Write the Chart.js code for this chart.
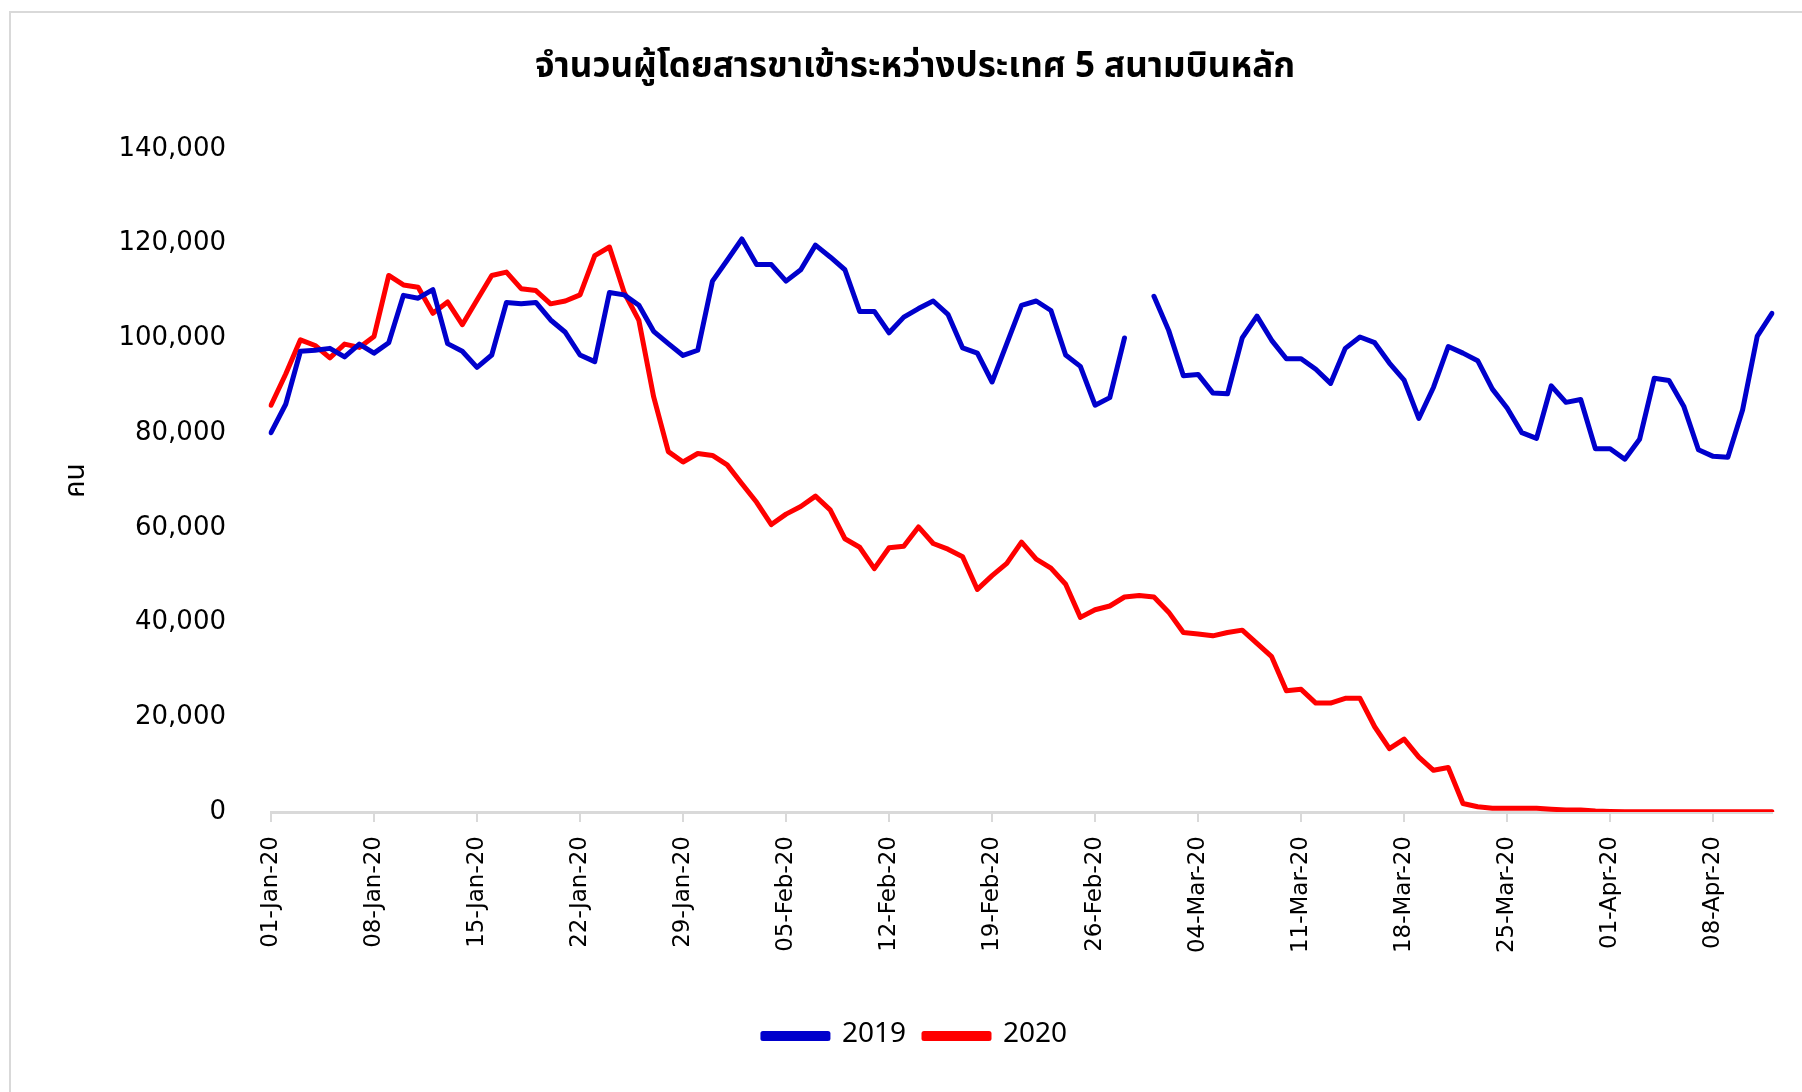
<!DOCTYPE html>
<html>
<head>
<meta charset="utf-8">
<script src="https://cdn.jsdelivr.net/npm/chart.js@4.4.1/dist/chart.umd.min.js"></script>
<style>
  html, body { margin: 0; padding: 0; background: #fff; }
  body { width: 1802px; height: 1092px; position: relative; overflow: hidden; }
  #frame { position: absolute; left: 9px; top: 11px; width: 1900px; height: 1200px;
           border-top: 2px solid #d9d9d9; border-left: 2px solid #d9d9d9; }
  #wrap { position: absolute; left: 0; top: 0; width: 1802px; height: 1092px; }
</style>
</head>
<body>
<div id="frame"></div>
<div id="wrap"><canvas id="chart"></canvas></div>
<script>
// ช่วงวันที่ 01-Jan ถึง 12-Apr (แกน x แบบรายวัน)
const startDay = { month: 0, day: 1 };
const dayCount = 103;
const monthNames = ['Jan', 'Feb', 'Mar', 'Apr'];
const monthLengths = [31, 29, 31, 30];
const tickEvery = 7;

// จำนวนผู้โดยสาร (คน)
const pax2019 = [
  80100, 86100, 97300, 97500, 97900, 96100, 98800, 96900, 99100, 109100,
  108500, 110300, 98900, 97300, 93900, 96500, 107600, 107300, 107600, 103900,
  101300, 96500, 95100, 109700, 109200, 107000, 101500, 98900, 96400, 97500,
  112100, 116500, 121000, 115600, 115600, 112100, 114500, 119700, 117200, 114500,
  105700, 105700, 101200, 104500, 106300, 107900, 105100, 98000, 96900, 90800,
  98900, 107000, 107900, 105900, 96500, 94100, 85900, 87500, 100100, null,
  108900, 101700, 92100, 92400, 88500, 88300, 100100, 104700, 99600, 95700,
  95700, 93500, 90500, 97900, 100300, 99100, 94800, 91200, 83100, 89700,
  98300, 96900, 95300, 89300, 85300, 80100, 78900, 90000, 86500, 87100,
  76700, 76700, 74500, 78700, 91600, 91100, 85700, 76500, 75100, 74900,
  84900, 100500, 105300
];
const pax2020 = [
  85900, 92500, 99700, 98500, 95900, 98800, 98100, 100400, 113300, 111300,
  110800, 105300, 107700, 102900, 108100, 113300, 114000, 110500, 110100, 107300,
  107900, 109200, 117500, 119300, 109700, 103800, 87700, 76100, 73900, 75700,
  75300, 73300, 69300, 65400, 60700, 62900, 64500, 66700, 63800, 57700,
  55900, 51400, 55800, 56100, 60200, 56700, 55500, 53900, 47000, 49900,
  52500, 57000, 53400, 51500, 48100, 41100, 42700, 43500, 45400, 45700,
  45400, 42200, 37900, 37600, 37200, 37900, 38400, 35600, 32800, 25600,
  25900, 23000, 23000, 24000, 24000, 18000, 13400, 15400, 11600, 8800,
  9400, 1800, 1100, 800, 800, 800, 800, 600, 400, 400,
  200, 100, 50, 50, 50, 50, 50, 50, 50, 50,
  50, 50, 50
];

// สร้างป้ายวันที่ เช่น 01-Jan-20
const dateLabels = [];
let m = startDay.month, d = startDay.day;
for (let i = 0; i < dayCount; i++) {
    dateLabels.push(String(d).padStart(2, '0') + '-' + monthNames[m] + '-20');
    d++;
    if (d > monthLengths[m]) { d = 1; m++; }
}

const tickFont = { family: '"DejaVu Sans", sans-serif', size: 23 };
const yFont = { family: '"DejaVu Sans", sans-serif', size: 26 };
const thaiFont = '"Noto Sans Thai", Tahoma, "DejaVu Sans", sans-serif';

new Chart(document.getElementById('chart'), {
    type: 'line',
    data: {
        labels: dateLabels,
        datasets: [{
            label: '2019',
            data: pax2019,
            borderColor: '#0000CC',
            backgroundColor: '#0000CC',
            borderWidth: 5,
            pointRadius: 0,
            tension: 0,
            spanGaps: false,
            borderJoinStyle: 'round',
            borderCapStyle: 'round'
        }, {
            label: '2020',
            data: pax2020,
            borderColor: '#FF0000',
            backgroundColor: '#FF0000',
            borderWidth: 5,
            pointRadius: 0,
            tension: 0,
            borderJoinStyle: 'round',
            borderCapStyle: 'round'
        }]
    },
    options: {
        responsive: true,
        maintainAspectRatio: false,
        animation: false,
        devicePixelRatio: 1,
        layout: { padding: { left: 58, right: 30, top: 19, bottom: 32 } },
        plugins: {
            title: {
                display: true,
                text: 'จำนวนผู้โดยสารขาเข้าระหว่างประเทศ 5 สนามบินหลัก',
                color: '#000',
                font: { family: thaiFont, size: 35, weight: 'bold' },
                padding: { top: 30, bottom: 58 }
            },
            legend: {
                position: 'bottom',
                labels: {
                    boxWidth: 65,
                    boxHeight: 5,
                    color: '#000',
                    font: { family: thaiFont, size: 28 },
                    padding: 18
                }
            },
            tooltip: { enabled: false }
        },
        scales: {
            x: {
                offset: false,
                grid: {
                    drawOnChartArea: false,
                    drawTicks: true,
                    tickLength: 10,
                    lineWidth: 2,
                    color: c => c.index % tickEvery === 0 ? '#d9d9d9' : 'rgba(0,0,0,0)'
                },
                border: { color: '#d9d9d9', width: 3 },
                ticks: {
                    autoSkip: false,
                    maxRotation: 90,
                    minRotation: 90,
                    padding: 14,
                    color: '#000',
                    font: tickFont,
                    callback: (v, i) => i % tickEvery === 0 ? dateLabels[i] : ''
                },
                afterFit: s => {
                    s.height = 192;
                    s.paddingLeft = 0;
                    s.paddingRight = 0;
                }
            },
            y: {
                min: 0,
                max: 140000,
                grid: { display: false, drawTicks: false },
                border: { display: false },
                ticks: {
                    stepSize: 20000,
                    padding: 45,
                    color: '#000',
                    font: yFont,
                    callback: v => v.toLocaleString('en-US')
                },
                title: {
                    display: true,
                    text: 'คน',
                    color: '#000',
                    font: { family: thaiFont, size: 28 },
                    padding: { top: 4, bottom: 0 }
                },
                afterFit: s => { s.width = 213; }
            }
        }
    }
});
</script>
</body>
</html>
